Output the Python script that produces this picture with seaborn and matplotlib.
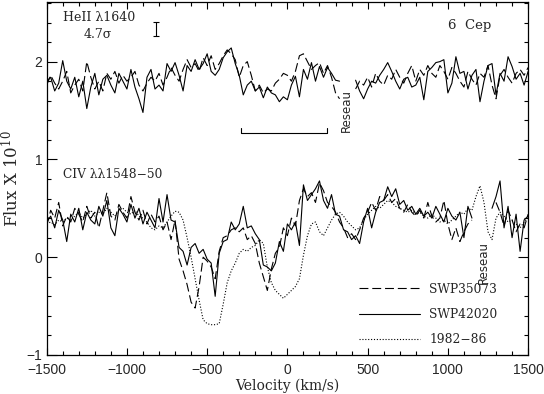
import numpy as np
import pandas as pd
import matplotlib
matplotlib.use("Agg")
import matplotlib.pyplot as plt
from matplotlib.ticker import MultipleLocator
import seaborn as sns

nan = np.nan

# velocity sampling grid (km/s), 25 km/s steps
velocity = np.arange(-1500, 1501, 25)

# HeII 1640 spectra (shifted up for display)
he_swp35073 = [
    1.76, 1.86, 1.78, 1.72, 1.80, 1.90, 1.68, 1.76, 1.82, 1.70,
    2.00, 1.84, 1.72, 1.80, 1.70, 1.88, 1.82, 1.90, 1.78, 1.86,
    1.80, 1.84, 1.90, 1.76, 1.70, 1.78, 1.84, 1.80, 1.88, 1.76,
    1.84, 1.94, 1.86, 1.80, 1.92, 2.02, 1.94, 1.98, 1.90, 2.04,
    1.96, 2.06, 1.92, 1.98, 2.06, 2.12, 2.08, 2.02, 1.84, 1.96,
    2.00, 1.86, 1.70, 1.76, 1.68, 1.72, 1.70, 1.78, 1.82, 1.88,
    1.86, 1.80, 1.90, 2.06, 2.08, 2.00, 1.92, 1.96, 1.99, 1.88,
    1.96, 1.84, 1.68, 1.62, nan, nan, nan, 1.72, 1.80, 1.76,
    1.84, 1.74, 1.88, 1.80, 1.76, 1.86, 1.82, 1.92, 1.84, 1.78,
    1.88, 1.96, 1.80, 1.92, 1.86, 1.96, 1.88, 1.84, 1.96, 1.90,
    1.82, 1.94, 1.88, 1.80, 1.74, 1.90, 1.82, 1.76, 1.88, 1.84,
    1.96, 1.76, 1.62, 1.86, 1.92, 1.84, 1.78, 1.88, 1.92, 1.86,
    1.94,
]
he_swp42020 = [
    1.80, 1.84, 1.70, 1.78, 2.01, 1.80, 1.72, 1.84, 1.64, 1.80,
    1.52, 1.74, 1.88, 1.66, 1.82, 1.86, 1.76, 1.68, 1.88, 1.80,
    1.72, 1.92, 1.74, 1.62, 1.48, 1.84, 1.92, 1.72, 1.76, 1.70,
    1.98, 1.90, 1.99, 1.86, 1.70, 1.96, 1.90, 2.02, 1.92, 1.98,
    2.08, 1.90, 1.86, 1.92, 2.04, 2.10, 2.14, 1.98, 1.86, 1.66,
    1.76, 1.80, 1.70, 1.74, 1.63, 1.74, 1.68, 1.66, 1.59, 1.64,
    1.61, 1.76, 1.85, 1.64, 1.92, 1.82, 1.99, 1.80, 1.95, 1.84,
    1.94, 1.88, 1.81, 1.80, nan, nan, nan, 1.81, 1.70, 1.62,
    1.72, 1.80, 1.78, 1.86, 1.92, 1.99, 1.90, 1.80, 1.72, 1.82,
    1.84, 1.74, 1.76, 1.84, 1.61, 1.90, 1.94, 1.99, 2.00, 2.02,
    1.68, 1.78, 2.05, 1.88, 1.90, 1.72, 1.86, 1.92, 1.59, 1.80,
    1.96, 1.98, 1.66, 1.88, 1.80, 2.05, 1.95, 1.82, 1.88, 1.76,
    1.90,
]

# CIV 1548-50 spectra
civ_swp35073 = [
    0.32, 0.48, 0.40, 0.56, 0.32, 0.42, 0.36, 0.50, 0.44, 0.36,
    0.52, 0.40, 0.46, 0.30, 0.48, 0.66, 0.42, 0.38, 0.54, 0.46,
    0.40, 0.62, 0.46, 0.38, 0.48, 0.34, 0.44, 0.36, 0.42, 0.28,
    0.36, 0.18, 0.38, -0.02, -0.14, -0.28, -0.46, -0.52, -0.30, 0.00,
    -0.04, -0.10, -0.22, 0.06, 0.20, 0.22, 0.28, 0.30, 0.26, 0.30,
    0.18, 0.22, 0.14, -0.06, -0.20, -0.34, -0.12, 0.04, 0.10, 0.30,
    0.22, 0.40, 0.32, 0.58, 0.70, 0.62, 0.66, 0.56, 0.76, 0.68,
    0.56, 0.52, 0.46, 0.36, 0.30, 0.20, 0.24, 0.18, 0.28, 0.40,
    0.46, 0.56, 0.48, 0.62, 0.58, 0.64, 0.56, 0.60, 0.50, 0.46,
    0.54, 0.46, 0.42, 0.48, 0.40, 0.56, 0.42, 0.36, 0.40, 0.58,
    0.34, 0.18, 0.30, 0.16, 0.26, 0.34, 0.38, nan, nan, nan,
    nan, nan, 0.56, 0.46, 0.32, 0.48, 0.38, 0.26, 0.34, 0.30,
    0.44,
]
civ_swp42020 = [
    0.36, 0.42, 0.30, 0.48, 0.38, 0.16, 0.44, 0.36, 0.50, 0.28,
    0.46, 0.38, 0.34, 0.52, 0.42, 0.58, 0.30, 0.22, 0.50, 0.44,
    0.36, 0.54, 0.40, 0.50, 0.34, 0.46, 0.38, 0.30, 0.60, 0.36,
    0.64, 0.38, 0.36, 0.10, 0.06, -0.08, 0.10, 0.14, 0.04, 0.08,
    -0.02, -0.06, -0.40, 0.04, 0.16, 0.18, 0.36, 0.28, 0.34, 0.52,
    0.30, 0.32, 0.24, 0.18, -0.08, -0.10, -0.14, -0.06, 0.16, 0.06,
    0.34, 0.28, 0.36, 0.12, 0.74, 0.58, 0.64, 0.70, 0.78, 0.58,
    0.50, 0.64, 0.44, 0.42, 0.28, 0.26, 0.18, 0.22, 0.14, 0.36,
    0.50, 0.30, 0.46, 0.56, 0.58, 0.72, 0.62, 0.70, 0.54, 0.58,
    0.48, 0.52, 0.44, 0.50, 0.42, 0.46, 0.40, 0.52, 0.44, 0.36,
    0.50, 0.42, 0.38, 0.46, 0.20, 0.52, 0.40, nan, nan, nan,
    nan, 0.50, 0.62, 0.78, 0.30, 0.52, 0.20, 0.44, 0.06, 0.38,
    0.42,
]
civ_1982_86 = [
    0.34, 0.36, 0.33, 0.38, 0.36, 0.40, 0.38, 0.42, 0.46, 0.40,
    0.44, 0.48, 0.42, 0.46, 0.44, 0.50, 0.46, 0.42, 0.48, 0.50,
    0.46, 0.44, 0.48, 0.42, 0.40, 0.36, 0.30, 0.28, 0.32, 0.30,
    0.36, 0.42, 0.47, 0.46, 0.38, 0.20, 0.00, -0.22, -0.44, -0.64,
    -0.68, -0.69, -0.69, -0.68, -0.48, -0.26, -0.14, -0.06, 0.04, 0.08,
    0.06, 0.10, 0.12, 0.18, 0.14, -0.10, -0.26, -0.34, -0.38, -0.42,
    -0.38, -0.34, -0.30, -0.22, 0.02, 0.22, 0.34, 0.36, 0.26, 0.22,
    0.30, 0.38, 0.44, 0.46, 0.42, 0.36, 0.32, 0.28, 0.30, 0.38,
    0.44, 0.48, 0.52, 0.50, 0.54, 0.58, 0.56, 0.52, 0.50, 0.48,
    0.46, 0.48, 0.44, 0.46, 0.42, 0.40, 0.44, 0.40, 0.36, 0.38,
    0.34, 0.38, 0.42, 0.46, 0.44, 0.50, 0.48, 0.62, 0.73, 0.56,
    0.26, 0.18, 0.40, 0.46, 0.42, 0.36, 0.38, 0.34, 0.30, 0.36,
    0.40,
]

series_names = ["SWP35073", "SWP42020", "1982\u221286"]

# annotations
heii_errbar = (-820, 2.335, 0.075)      # velocity, centre, half-length
bracket_v = (-290, 245)
bracket_y = (1.265, 1.32)

sns.set_style("ticks")
plt.rcParams["font.family"] = ["DejaVu Serif"]
plt.rcParams["mathtext.fontset"] = "dejavuserif"

fig = plt.figure(figsize=(5.44, 3.94), dpi=100)
ax = fig.add_axes([0.0858, 0.0990, 0.885, 0.8960])

styles = {
    "SWP35073": dict(lw=0.8, dashes=(8, 3.5)),
    "SWP42020": dict(lw=0.8),
    "1982\u221286": dict(lw=0.8, dashes=(1, 1.6)),
}

def add_spec(values, name):
    d = pd.DataFrame({"v": velocity, "flux": values})
    # split at the gaps so the line breaks there
    d["seg"] = d["flux"].isna().cumsum()
    d = d.dropna()
    st = styles[name]
    sns.lineplot(data=d, x="v", y="flux", units="seg", estimator=None,
                 sort=False, ax=ax, legend=False, color="black", lw=st["lw"])
    ln = ax.lines[-d["seg"].nunique():]
    for l in ln:
        if "dashes" in st:
            l.set_dashes(st["dashes"])
    return ln[0]

add_spec(he_swp35073, series_names[0])
add_spec(he_swp42020, series_names[1])
hd = add_spec(civ_swp35073, series_names[0])
hs = add_spec(civ_swp42020, series_names[1])
hp = add_spec(civ_1982_86, series_names[2])

ax.legend([hd, hs, hp], series_names,
          loc="upper left", bbox_to_anchor=(0.649, 0.205), frameon=False,
          borderpad=0, borderaxespad=0, handlelength=5.0, handletextpad=0.75,
          labelspacing=1.0, fontsize=8.8)

# HeII error bar
ax.errorbar([heii_errbar[0]], [heii_errbar[1]], yerr=[heii_errbar[2]],
            color="black", lw=0.8, capsize=2, capthick=0.8)
# bracket under the HeII absorption
ax.plot([bracket_v[0], bracket_v[0], bracket_v[1], bracket_v[1]],
        [bracket_y[1], bracket_y[0], bracket_y[0], bracket_y[1]],
        color="black", lw=0.8)

ax.text(-1400, 2.45, "HeII \u03bb1640", fontsize=9, va="center")
ax.text(-1180, 2.28, "4.7\u03c3", fontsize=9, va="center", ha="center")
ax.text(1000, 2.37, "6  Cep", fontsize=9.5, va="center")
ax.text(-1400, 0.85, "CIV \u03bb\u03bb1548\u221250", fontsize=8.8, va="center")
ax.text(367, 1.5, "Reseau", rotation=90, fontsize=8.5, ha="center", va="center",
        family="DejaVu Sans")
ax.text(1220, -0.05, "Reseau", rotation=90, fontsize=8.5, ha="center", va="center",
        family="DejaVu Sans")

ax.set_xlim(-1500, 1500)
ax.set_ylim(-1, 2.61)
ax.xaxis.set_major_locator(MultipleLocator(500))
ax.xaxis.set_minor_locator(MultipleLocator(100))
ax.yaxis.set_major_locator(MultipleLocator(1))
ax.yaxis.set_minor_locator(MultipleLocator(0.2))
ax.tick_params(which="both", direction="in", top=True, right=True,
               width=0.8, color="black")
ax.tick_params(axis="x", which="major", length=5, pad=6)
ax.tick_params(axis="y", which="major", length=7, pad=3)
ax.tick_params(which="minor", length=3)
for lab in ax.get_xticklabels() + ax.get_yticklabels():
    lab.set_fontfamily("Liberation Sans")
    lab.set_fontsize(10)
for s in ax.spines.values():
    s.set_linewidth(0.9)
    s.set_color("black")

ax.set_xlabel("Velocity (km/s)", fontsize=10, labelpad=1)
ax.set_ylabel("Flux X 10$^{10}$", fontsize=12, labelpad=3)

fig.savefig("out.png", dpi=100)
